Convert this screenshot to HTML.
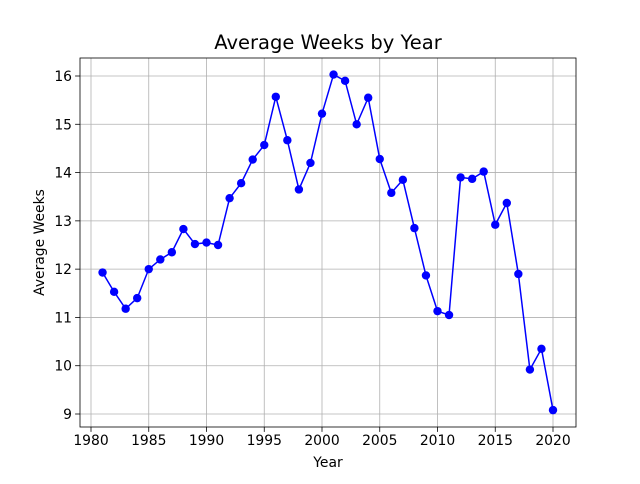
<!DOCTYPE html>
<html><head><meta charset="utf-8"><style>
body{margin:0;background:#fff;font-family:"DejaVu Sans","Liberation Sans",sans-serif;}
svg text{font-family:"DejaVu Sans","Liberation Sans",sans-serif;}
</style></head><body>
<svg id="chart" width="640" height="480" viewBox="0 0 640 480"></svg>
<script>
const years=[1981,1982,1983,1984,1985,1986,1987,1988,1989,1990,1991,1992,1993,1994,1995,1996,1997,1998,1999,2000,2001,2002,2003,2004,2005,2006,2007,2008,2009,2010,2011,2012,2013,2014,2015,2016,2017,2018,2019,2020];
const avgWeeks=[11.93,11.53,11.18,11.4,12.0,12.2,12.35,12.83,12.52,12.55,12.5,13.47,13.78,14.27,14.57,15.57,14.67,13.65,14.2,15.22,16.03,15.9,15.0,15.55,14.28,13.58,13.85,12.85,11.87,11.13,11.05,13.9,13.87,14.02,12.92,13.37,11.9,9.92,10.35,9.08];
const xTicks=[1980,1985,1990,1995,2000,2005,2010,2015,2020];
const yTicks=[9,10,11,12,13,14,15,16];
const L=80,R=576,T=58,B=427;
const x=v=>91+(v-1980)*(553-91)/40;
const y=v=>414-(v-9)*(414-76)/7;
const svg=document.getElementById('chart');
const NS='http://www.w3.org/2000/svg';
function mk(tag,attrs,parent){const e=document.createElementNS(NS,tag);for(const k in attrs)e.setAttribute(k,attrs[k]);(parent||svg).appendChild(e);return e;}
xTicks.forEach(t=>{
  const g=mk('line',{x1:x(t),x2:x(t),y1:T,y2:B,stroke:'#b0b0b0','stroke-width':0.8});
  
  
  mk('line',{x1:x(t),x2:x(t),y1:B,y2:B+4.9,stroke:'#000','stroke-width':0.8});
  const tx=mk('text',{x:x(t),y:B+18,'text-anchor':'middle','font-size':13.9,fill:'#000'});
  tx.textContent=t;
  
  
});
yTicks.forEach(t=>{
  const g=mk('line',{x1:L,x2:R,y1:y(t),y2:y(t),stroke:'#b0b0b0','stroke-width':0.8});
  
  
  mk('line',{x1:L-4.9,x2:L,y1:y(t),y2:y(t),stroke:'#000','stroke-width':0.8});
  const tx=mk('text',{x:L-8,y:y(t)+5,'text-anchor':'end','font-size':13.9,fill:'#000'});
  tx.textContent=t;
  
  
});
const frame=mk('rect',{x:L,y:T,width:R-L,height:B-T,fill:'none',stroke:'#000','stroke-width':0.8});


const line=mk('polyline',{points:years.map((yr,i)=>x(yr)+','+y(avgWeeks[i])).join(' '),fill:'none',stroke:'#0000ff','stroke-width':1.5});


years.forEach((yr,i)=>{
  const c=mk('circle',{cx:x(yr),cy:y(avgWeeks[i]),r:4.2,fill:'#0000ff'});
  
  
});
const title=mk('text',{x:(L+R)/2,y:49,'text-anchor':'middle','font-size':19.5,fill:'#000'});
title.textContent='Average Weeks by Year';


const xt=mk('text',{x:(L+R)/2,y:467,'text-anchor':'middle','font-size':13.9,fill:'#000'});
xt.textContent='Year';


const yt=mk('text',{x:0,y:0,'text-anchor':'middle','font-size':13.9,fill:'#000',transform:'translate(44,'+((T+B)/2)+') rotate(-90)'});
yt.textContent='Average Weeks';


</script>
</body></html>
